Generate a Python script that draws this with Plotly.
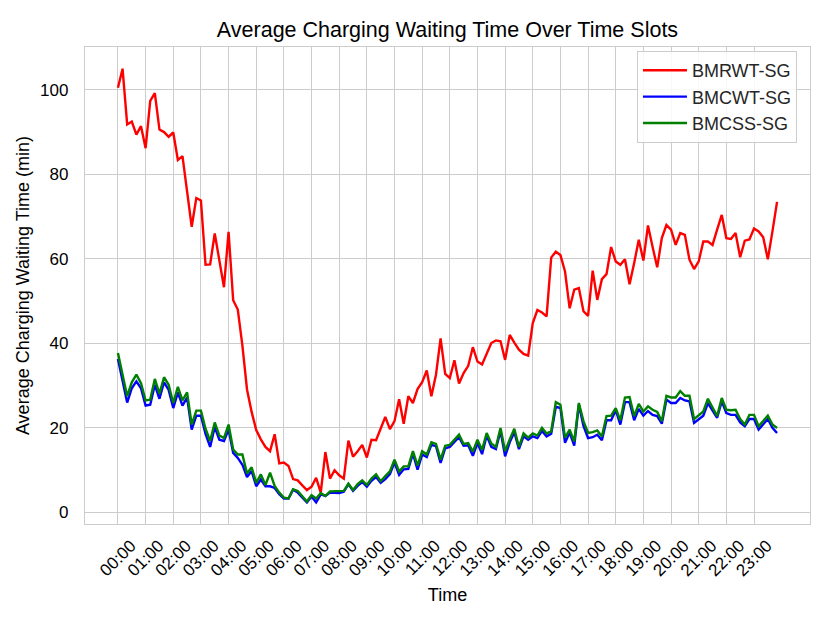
import plotly.graph_objects as go

# 10-minute time slots over one day
slots = [f"{h:02d}:{m:02d}" for h in range(24) for m in range(0, 60, 10)]
hour_ticks = [f"{h:02d}:00" for h in range(24)]

bmrwt_sg = [
    100.5, 105.0, 91.8, 92.5, 89.4, 91.4, 86.2, 97.4, 99.2, 90.6, 90.0, 88.9,
    89.9, 83.4, 84.3, 75.5, 67.6, 74.4, 73.8, 58.6, 58.7, 66.0, 60.0, 53.3,
    66.4, 50.2, 48.0, 39.5, 29.1, 23.8, 19.5, 17.3, 15.5, 14.5, 18.5, 11.6,
    11.8, 11.0, 7.9, 7.6, 6.4, 5.3, 6.1, 8.2, 4.7, 14.3, 8.0, 10.0,
    8.8, 8.0, 17.0, 13.2, 14.5, 16.0, 13.0, 17.2, 17.1, 19.9, 22.6, 19.7,
    21.6, 26.8, 21.0, 27.5, 25.9, 29.2, 30.8, 33.6, 27.5, 32.6, 41.2, 32.8,
    31.8, 36.0, 30.5, 33.0, 34.7, 39.1, 35.7, 35.0, 37.7, 40.1, 40.7, 40.5,
    36.1, 42.0, 40.2, 38.5, 37.5, 37.1, 44.8, 47.9, 47.3, 46.4, 60.3, 61.7,
    60.9, 57.0, 48.3, 52.7, 53.1, 47.6, 46.5, 57.2, 50.3, 55.2, 56.4, 62.8,
    59.4, 58.6, 59.9, 54.0, 59.0, 64.5, 59.6, 67.9, 62.8, 58.0, 64.9, 68.0,
    66.9, 63.3, 66.1, 65.7, 59.8, 57.6, 59.4, 64.1, 64.1, 63.3, 66.9, 70.4,
    64.9, 64.7, 66.1, 60.4, 64.3, 64.6, 67.2, 66.5, 65.1, 59.9, 66.5, 73.5,
]

bmcwt_sg = [
    36.3, 31.0, 26.0, 29.4, 31.0, 29.4, 25.3, 25.5, 30.2, 26.9, 30.8, 29.0,
    24.7, 28.4, 25.3, 27.2, 19.6, 22.9, 22.9, 18.6, 15.5, 20.2, 17.2, 16.9,
    19.6, 14.1, 12.9, 11.3, 8.4, 9.8, 6.2, 7.8, 6.2, 6.2, 5.8, 4.3,
    3.3, 3.3, 5.4, 4.7, 3.6, 2.4, 3.8, 2.4, 4.3, 3.9, 4.7, 4.6,
    4.6, 4.9, 6.7, 5.1, 6.3, 7.2, 6.1, 7.5, 8.4, 7.0, 7.9, 9.1,
    11.8, 8.9, 10.2, 10.3, 13.9, 10.1, 13.7, 13.1, 16.0, 15.7, 11.7, 15.2,
    15.5, 16.7, 17.8, 15.8, 15.9, 13.4, 16.4, 13.8, 18.2, 15.5, 15.0, 19.3,
    13.3, 16.6, 19.0, 15.0, 18.0, 17.2, 18.0, 17.6, 19.3, 18.0, 18.6, 25.0,
    24.7, 16.5, 18.9, 15.8, 25.5, 20.5, 17.6, 17.8, 18.4, 17.1, 21.8, 21.8,
    24.2, 20.8, 26.1, 26.1, 21.8, 24.5, 22.9, 24.0, 23.1, 22.8, 21.0, 26.7,
    25.9, 25.9, 27.1, 26.5, 26.3, 21.2, 22.0, 22.9, 25.9, 24.0, 22.4, 26.3,
    23.5, 23.1, 23.1, 21.3, 20.4, 22.1, 22.1, 19.6, 20.8, 22.1, 20.0, 18.8,
]

bmcss_sg = [
    37.7, 32.2, 27.5, 30.8, 32.6, 30.6, 26.5, 26.7, 31.6, 28.1, 32.0, 30.2,
    25.9, 29.7, 26.5, 28.4, 20.8, 24.1, 24.1, 19.8, 16.9, 21.3, 18.2, 17.6,
    20.8, 14.9, 13.7, 13.7, 9.2, 10.7, 7.0, 9.0, 6.5, 9.4, 6.3, 4.7,
    3.5, 3.3, 5.5, 5.1, 3.9, 2.6, 4.1, 3.3, 4.6, 3.9, 5.0, 5.0,
    5.1, 5.1, 6.8, 5.3, 6.7, 7.6, 6.5, 8.0, 9.0, 7.4, 8.6, 9.7,
    12.5, 9.7, 10.9, 10.9, 14.5, 11.1, 14.5, 13.7, 16.6, 16.2, 12.5, 15.8,
    16.0, 17.2, 18.4, 16.2, 16.4, 14.4, 17.2, 14.8, 18.8, 16.3, 15.5, 20.0,
    14.5, 17.3, 19.8, 15.5, 18.7, 17.7, 18.7, 18.2, 20.0, 18.7, 19.2, 26.1,
    25.5, 17.7, 19.6, 16.8, 25.9, 21.6, 18.8, 19.0, 19.4, 18.0, 22.8, 22.9,
    24.7, 21.8, 27.2, 27.3, 22.8, 25.7, 23.9, 25.1, 24.3, 23.8, 21.6, 27.6,
    27.2, 27.2, 28.7, 27.6, 27.6, 22.1, 23.0, 23.9, 26.9, 24.7, 22.8, 27.1,
    24.3, 24.2, 24.3, 22.1, 20.8, 23.1, 23.1, 20.4, 21.6, 22.9, 20.8, 20.0,
]

series = [
    ("BMRWT-SG", bmrwt_sg, "#ff0000"),
    ("BMCWT-SG", bmcwt_sg, "#0000ff"),
    ("BMCSS-SG", bmcss_sg, "#008000"),
]

FONT = "Liberation Sans, Arial, sans-serif"
TXT = "#262626"
GRID = "#cccccc"

fig = go.Figure()
for name, vals, color in series:
    fig.add_trace(go.Scatter(
        x=slots, y=vals, mode="lines", name=name,
        line=dict(color=color, width=2.4),
    ))

n = len(slots)
pad = 0.05 * (n - 1)
ymin = min(min(s[1]) for s in series)
ymax = max(max(s[1]) for s in series)
ypad = 0.05 * (ymax - ymin)

fig.update_layout(
    width=830, height=623,
    margin=dict(l=77, r=28, t=39, b=107, autoexpand=False),
    paper_bgcolor="white", plot_bgcolor="white",
    font=dict(family=FONT, size=17, color=TXT),
    title=dict(
        text="Average Charging Waiting Time Over Time Slots",
        font=dict(family=FONT, size=21.5, color="#000000"),
        x=0.5295, xanchor="center", y=0.966, yanchor="middle",
    ),
    showlegend=True,
    legend=dict(
        x=0.982, y=0.9916, xanchor="right", yanchor="top",
        bgcolor="rgba(255,255,255,0.85)", bordercolor=GRID, borderwidth=1,
        font=dict(family=FONT, size=18, color=TXT),
        tracegroupgap=0, itemwidth=44,
    ),
)

fig.update_xaxes(
    type="category",
    categoryorder="array", categoryarray=slots,
    range=[-pad, n - 1 + pad],
    tickmode="array", tickvals=hour_ticks, ticktext=hour_ticks,
    tickangle=-45,
    ticklabelshift=13, ticklabelstandoff=4,
    ticks="", automargin=False,
    showgrid=True, gridcolor=GRID, gridwidth=1.3,
    showline=True, linecolor=GRID, linewidth=1.3, mirror=True,
    zeroline=False,
    title=dict(text="Time", font=dict(family=FONT, size=18, color="#000000"), standoff=9),
    tickfont=dict(family=FONT, size=17, color="#000000"),
)

fig.update_yaxes(
    range=[ymin - ypad, ymax + ypad],
    tickmode="array", tickvals=[0, 20, 40, 60, 80, 100],
    ticks="", ticklabelstandoff=12, automargin=False,
    showgrid=True, gridcolor=GRID, gridwidth=1.3,
    showline=True, linecolor=GRID, linewidth=1.3, mirror=True,
    zeroline=False,
    title=dict(text="Average Charging Waiting Time (min)",
               font=dict(family=FONT, size=18, color="#000000"), standoff=5),
    tickfont=dict(family=FONT, size=17, color="#000000"),
)

fig.write_html("out.html")
